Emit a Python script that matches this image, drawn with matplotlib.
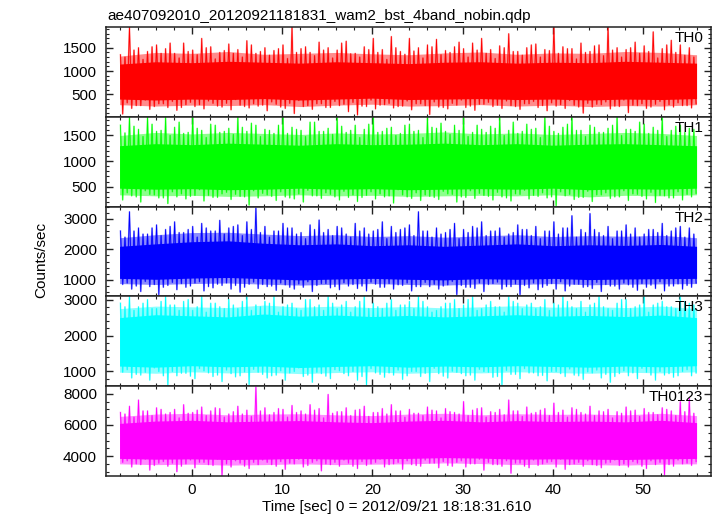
import numpy as np
import matplotlib
matplotlib.use('Agg')
import matplotlib.pyplot as plt
from matplotlib.ticker import MultipleLocator

plt.rcParams['font.family'] = ['Liberation Sans', 'DejaVu Sans']

title  = 'ae407092010_20120921181831_wam2_bst_4band_nobin.qdp'
xlabel = 'Time [sec] 0 = 2012/09/21 18:18:31.610'
ylabel = 'Counts/sec'
bands  = ['TH0', 'TH1', 'TH2', 'TH3', 'TH0123']
colors = ['#ff0000', '#00ff00', '#0000ff', '#00ffff', '#ff00ff']

# --- values --- #
# per second: a spike top, a dip, a second (smaller) spike top, a second dip;
# plus the dense core band (solid) and its fringe, every 4 s
t_sec  = np.arange(64) - 7.9
t_core = [-8, -4, 0, 4, 8, 12, 16, 20, 24, 28, 32, 36, 40, 44, 48, 52, 55.9]

th0_peak = [1350, 1940, 1500, 1420, 1560, 1480, 1380, 1600, 1450, 1700, 1520, 1400, 1580, 1460, 1650, 1380,
            1500, 1440, 1560, 1940, 1480, 1400, 1620, 1500, 1450, 1640, 1380, 1520, 1700, 1460, 1740, 1420,
            1700, 1500, 1560, 1680, 1440, 1520, 1480, 1600, 1700, 1460, 1540, 1800, 1420, 1500, 1580, 1460,
            1940, 1520, 1480, 1600, 1420, 1560, 1940, 1500, 1460, 1620, 1540, 1840, 1480, 1660, 1560, 1500]
th0_dip  = [80, 200, 260, 180, 300, 220, 160, 280, 240, 190, 310, 230, 170, 270, 210, 250,
            150, 290, 200, 90, 240, 180, 300, 220, 260, 130, 60, 240, 190, 280, 210, 250,
            170, 300, 70, 230, 190, 270, 220, 160, 290, 240, 200, 260, 180, 300, 220, 150,
            250, 200, 270, 100, 230, 280, 190, 240, 110, 260, 200, 290, 170, 230, 260, 210]
th0_peak_b = [1300, 1450, 1250, 1520, 1380, 1600, 1280, 1420, 1350, 1500, 1260, 1440, 1380, 1300, 1560, 1420,
              1340, 1480, 1270, 1400, 1520, 1330, 1450, 1280, 1600, 1370, 1300, 1460, 1400, 1250, 1500, 1360,
              1430, 1280, 1520, 1350, 1400, 1620, 1300, 1450, 1380, 1270, 1500, 1420, 1340, 1560, 1300, 1440,
              1380, 1480, 1260, 1400, 1540, 1330, 1450, 1300, 1500, 1380, 1420, 1280, 1560, 1400, 1340, 1300]
th0_dip_b  = [320, 260, 380, 240, 300, 350, 220, 330, 280, 360, 250, 310, 390, 240, 300, 270,
              340, 230, 310, 370, 260, 300, 220, 350, 290, 330, 250, 380, 270, 310, 240, 360,
              300, 260, 340, 220, 310, 380, 250, 290, 330, 270, 360, 240, 300, 350, 260, 320,
              280, 370, 230, 310, 290, 340, 250, 380, 270, 300, 230, 350, 280, 320, 260, 300]
th0_hi   = [1150, 1200, 1180, 1210, 1190, 1170, 1200, 1180, 1160, 1190, 1200, 1170, 1190, 1180, 1210, 1190, 1170]
th0_lo   = [400, 380, 400, 390, 410, 380, 400, 420, 390, 400, 410, 390, 400, 380, 400, 390, 410]
th0_hi2  = [1320, 1400, 1380, 1420, 1360, 1380, 1400, 1370, 1350, 1390, 1410, 1360, 1390, 1380, 1420, 1400, 1350]
th0_lo2  = [280, 250, 270, 260, 280, 240, 270, 290, 250, 260, 280, 250, 270, 240, 260, 250, 280]

th1_peak = [1700, 1860, 1620, 1860, 1580, 1860, 1660, 1540, 1860, 1600, 1720, 1560, 1640, 1860, 1580, 1700,
            1620, 1540, 1860, 1660, 1600, 1760, 1580, 1640, 1860, 1560, 1700, 1620, 1860, 1580, 1660, 1540,
            1720, 1600, 1860, 1640, 1580, 1700, 1860, 1560, 1620, 1680, 1860, 1600, 1540, 1720, 1640, 1860,
            1580, 1660, 1860, 1600, 1700, 1560, 1640, 1860, 1620, 1580, 1720, 1660, 1860, 1600, 1700, 1640]
th1_dip  = [240, 320, 200, 350, 280, 170, 300, 260, 330, 220, 290, 360, 250, 310, 140, 280,
            340, 230, 300, 260, 200, 320, 270, 350, 240, 290, 210, 330, 260, 300, 180, 340,
            270, 230, 310, 250, 360, 200, 290, 270, 330, 240, 300, 220, 350, 260, 310, 280,
            130, 320, 250, 290, 210, 340, 270, 300, 230, 350, 260, 190, 320, 280, 240, 300]
th1_peak_b = [1550, 1680, 1480, 1720, 1600, 1500, 1760, 1560, 1640, 1460, 1700, 1580, 1520, 1660, 1740, 1480,
              1600, 1700, 1540, 1620, 1480, 1760, 1580, 1520, 1680, 1600, 1460, 1720, 1560, 1640, 1500, 1700,
              1580, 1460, 1660, 1740, 1520, 1600, 1480, 1700, 1560, 1640, 1500, 1760, 1580, 1620, 1460, 1680,
              1540, 1720, 1600, 1480, 1660, 1560, 1700, 1500, 1620, 1760, 1540, 1600, 1480, 1680, 1560, 1620]
th1_dip_b  = [380, 300, 420, 340, 280, 400, 360, 310, 440, 330, 290, 390, 350, 300, 420, 370,
              310, 400, 280, 360, 430, 320, 380, 300, 410, 340, 290, 400, 360, 320, 440, 300,
              380, 340, 290, 410, 350, 300, 420, 370, 310, 390, 280, 360, 430, 330, 380, 300,
              400, 350, 290, 410, 340, 380, 300, 420, 360, 310, 390, 330, 280, 400, 350, 370]
th1_hi   = [1300, 1340, 1320, 1350, 1330, 1310, 1340, 1320, 1330, 1350, 1320, 1340, 1310, 1330, 1340, 1320, 1300]
th1_lo   = [470, 450, 460, 440, 450, 470, 450, 460, 440, 450, 460, 450, 470, 440, 460, 450, 470]
th1_hi2  = [1500, 1560, 1530, 1560, 1540, 1520, 1550, 1530, 1540, 1570, 1530, 1550, 1520, 1540, 1560, 1540, 1500]
th1_lo2  = [340, 320, 330, 310, 320, 340, 320, 330, 310, 320, 330, 320, 340, 300, 330, 320, 340]

th2_peak = [2600, 3230, 2700, 2500, 2800, 2650, 2900, 2550, 2750, 2850, 2600, 2950, 2700, 2800, 2900, 3350,
            2750, 2600, 2850, 2700, 2550, 2800, 2960, 2650, 2750, 2500, 2850, 2700, 2600, 2900, 2750, 2650,
            2800, 3230, 2600, 2700, 2550, 2850, 2650, 2750, 2900, 2600, 2700, 2500, 2800, 2650, 2750, 2600,
            2900, 2700, 3100, 2650, 3170, 2550, 2750, 2600, 2800, 2700, 2500, 2650, 2850, 2600, 2750, 2700]
th2_dip  = [850, 700, 620, 780, 520, 820, 680, 760, 900, 640, 740, 820, 700, 600, 860, 720,
            780, 660, 840, 700, 760, 620, 880, 740, 680, 800, 720, 640, 860, 760, 700, 820,
            640, 780, 780, 700, 840, 520, 760, 720, 620, 880, 700, 780, 520, 740, 680, 820,
            700, 640, 860, 760, 720, 620, 800, 700, 840, 660, 760, 720, 640, 800, 700, 760]
th2_peak_b = [2400, 2600, 2500, 2700, 2450, 2750, 2550, 2650, 2400, 2700, 2600, 2500, 2750, 2450, 2650, 2550,
              2400, 2600, 2700, 2500, 2350, 2650, 2550, 2450, 2700, 2400, 2600, 2500, 2650, 2350, 2550, 2700,
              2450, 2600, 2400, 2500, 2650, 2350, 2550, 2700, 2450, 2600, 2400, 2550, 2650, 2450, 2350, 2600,
              2500, 2700, 2400, 2550, 2650, 2450, 2350, 2600, 2500, 2400, 2650, 2550, 2450, 2700, 2400, 2500]
th2_dip_b  = [900, 800, 950, 850, 760, 920, 880, 800, 940, 780, 860, 900, 820, 760, 930, 850,
              800, 900, 760, 870, 940, 820, 880, 780, 910, 850, 800, 930, 760, 880, 840, 900,
              780, 920, 860, 800, 950, 820, 760, 900, 850, 930, 780, 870, 820, 900, 760, 880,
              940, 800, 860, 780, 920, 850, 800, 900, 760, 880, 830, 940, 800, 870, 820, 900]
th2_hi   = [2100, 2180, 2250, 2280, 2200, 2150, 2180, 2120, 2150, 2100, 2140, 2180, 2120, 2150, 2130, 2160, 2100]
th2_lo   = [1050, 1020, 1060, 1080, 1040, 1000, 1030, 1050, 1020, 1000, 1040, 1020, 1050, 1010, 1030, 1040, 1050]
th2_hi2  = [2380, 2480, 2550, 2560, 2500, 2450, 2480, 2420, 2450, 2400, 2440, 2480, 2420, 2450, 2430, 2460, 2380]
th2_lo2  = [880, 850, 880, 900, 860, 830, 860, 880, 850, 830, 870, 850, 880, 840, 860, 870, 880]

th3_peak = [2900, 3090, 2800, 3000, 2750, 3090, 2850, 2950, 2700, 3090, 2900, 2800, 3000, 2750, 3090, 2850,
            2950, 3090, 2800, 2900, 2700, 3000, 2850, 3090, 2750, 2950, 2800, 3090, 2900, 2750, 3000, 2850,
            2950, 3090, 2800, 2700, 2900, 3000, 2850, 3090, 2750, 2950, 2800, 3090, 2900, 2850, 2750, 3000,
            2900, 3090, 2800, 2950, 2850, 3090, 2750, 2900, 3000, 2800, 3090, 2850, 2950, 2800, 3090, 2900]
th3_dip  = [980, 820, 900, 760, 1000, 620, 880, 950, 800, 1020, 860, 720, 940, 880, 640, 980,
            820, 900, 760, 1000, 860, 700, 940, 800, 1020, 880, 760, 620, 960, 840, 900, 780,
            1000, 860, 720, 940, 820, 980, 880, 760, 1000, 840, 620, 920, 800, 960, 880, 740,
            1000, 860, 900, 780, 960, 820, 700, 940, 880, 800, 980, 760, 900, 840, 1000, 880]
th3_peak_b = [2800, 2700, 2900, 2750, 2950, 2850, 2700, 3000, 2800, 2650, 2900, 2750, 2850, 2950, 2700, 2800,
              2900, 2650, 2850, 2750, 3000, 2800, 2700, 2900, 2850, 2650, 2950, 2750, 2800, 2900, 2700, 2850,
              2750, 2950, 2650, 2800, 2900, 2750, 3000, 2700, 2850, 2800, 2650, 2950, 2750, 2900, 2800, 2700,
              2850, 2950, 2750, 2650, 2900, 2800, 2700, 3000, 2750, 2850, 2650, 2900, 2800, 2750, 2950, 2850]
th3_dip_b  = [1050, 920, 980, 1100, 880, 1000, 950, 870, 1080, 960, 900, 1040, 850, 990, 1060, 920,
              880, 1020, 960, 1100, 900, 980, 870, 1050, 940, 1000, 860, 1080, 920, 960, 1040, 880,
              1000, 950, 1090, 870, 1010, 940, 900, 1060, 980, 860, 1030, 920, 1080, 960, 890, 1000,
              940, 1070, 880, 990, 1040, 920, 860, 1020, 960, 1090, 900, 1000, 940, 880, 1050, 960]
th3_hi   = [2500, 2580, 2550, 2520, 2600, 2540, 2570, 2530, 2560, 2520, 2550, 2580, 2540, 2560, 2530, 2570, 2500]
th3_lo   = [1150, 1120, 1160, 1130, 1150, 1110, 1140, 1160, 1120, 1150, 1130, 1160, 1140, 1120, 1150, 1130, 1160]
th3_hi2  = [2750, 2820, 2800, 2780, 2850, 2790, 2820, 2780, 2810, 2770, 2800, 2830, 2790, 2810, 2780, 2820, 2750]
th3_lo2  = [980, 950, 990, 960, 980, 940, 970, 990, 950, 980, 960, 990, 970, 950, 980, 960, 990]

sum_peak = [6800, 7200, 7600, 6900, 7100, 6700, 7000, 7300, 6800, 7150, 6900, 7050, 6700, 7200, 6950, 8430,
            7100, 6800, 7000, 7250, 6900, 7300, 7050, 7960, 6850, 7100, 6950, 7200, 6800, 7050, 7300, 6900,
            7000, 6750, 7150, 6900, 7050, 6800, 7500, 6950, 7100, 6850, 7000, 7600, 6900, 7150, 6800, 7050,
            7400, 6950, 7100, 6800, 7200, 6900, 7000, 6850, 7150, 6950, 7050, 6800, 7100, 6900, 7490, 7700]
sum_dip  = [3600, 3300, 3450, 3100, 3550, 3350, 3000, 3500, 3250, 3600, 3400, 2750, 3300, 3550, 3200, 3450,
            3600, 3350, 3150, 3500, 3300, 3600, 3050, 3450, 3350, 3550, 3200, 3400, 3600, 3300, 3500, 3150,
            3450, 3350, 3550, 3250, 3400, 3600, 3300, 3500, 3100, 3450, 3350, 2900, 3550, 3250, 3400, 3600,
            3300, 3150, 3500, 3350, 3450, 3250, 3600, 3400, 3300, 3550, 3200, 3450, 2780, 3350, 3500, 3400]
sum_peak_b = [6700, 6500, 6900, 6600, 7000, 6800, 6450, 6750, 6950, 6600, 7100, 6500, 6850, 6700, 6550, 6900,
              6650, 7050, 6500, 6800, 6700, 6950, 6450, 6750, 6850, 6600, 7000, 6550, 6800, 6700, 6900, 6500,
              6750, 6600, 6950, 6450, 6850, 6700, 6600, 7050, 6500, 6800, 6650, 6900, 6550, 6750, 6950, 6600,
              6800, 6500, 7000, 6700, 6600, 6850, 6450, 6750, 6900, 6550, 6800, 6650, 7000, 6600, 6850, 6750]
sum_dip_b  = [3700, 3500, 3800, 3400, 3650, 3550, 3350, 3750, 3600, 3450, 3800, 3500, 3700, 3350, 3600, 3750,
              3450, 3650, 3550, 3800, 3400, 3700, 3500, 3600, 3750, 3350, 3650, 3500, 3800, 3450, 3600, 3700,
              3400, 3750, 3550, 3650, 3350, 3700, 3500, 3800, 3600, 3450, 3700, 3550, 3350, 3750, 3500, 3650,
              3800, 3450, 3600, 3700, 3400, 3550, 3750, 3500, 3650, 3350, 3700, 3600, 3450, 3750, 3550, 3650]
sum_hi   = [6100, 6250, 6300, 6200, 6250, 6280, 6200, 6150, 6250, 6300, 6200, 6280, 6220, 6250, 6200, 6300, 6150]
sum_lo   = [3850, 3800, 3820, 3780, 3800, 3850, 3800, 3820, 3850, 3900, 3870, 3800, 3820, 3800, 3780, 3820, 3850]
sum_hi2  = [6550, 6700, 6750, 6650, 6700, 6720, 6650, 6600, 6700, 6750, 6650, 6720, 6680, 6700, 6650, 6750, 6600]
sum_lo2  = [3500, 3450, 3480, 3420, 3450, 3500, 3450, 3480, 3500, 3560, 3520, 3450, 3480, 3450, 3420, 3480, 3500]

peaks   = [th0_peak, th1_peak, th2_peak, th3_peak, sum_peak]
dips    = [th0_dip, th1_dip, th2_dip, th3_dip, sum_dip]
peaks_b = [th0_peak_b, th1_peak_b, th2_peak_b, th3_peak_b, sum_peak_b]
dips_b  = [th0_dip_b, th1_dip_b, th2_dip_b, th3_dip_b, sum_dip_b]
his     = [th0_hi, th1_hi, th2_hi, th3_hi, sum_hi]
los     = [th0_lo, th1_lo, th2_lo, th3_lo, sum_lo]
his2    = [th0_hi2, th1_hi2, th2_hi2, th3_hi2, sum_hi2]
los2    = [th0_lo2, th1_lo2, th2_lo2, th3_lo2, sum_lo2]

ylims  = [(20, 1945), (110, 1865), (460, 3400), (590, 3090), (2720, 8490)]
majors = [500, 500, 1000, 1000, 2000]
minors = [100, 100, 200, 200, 500]

W, H = 717, 516
fig = plt.figure(figsize=(W / 100, H / 100), dpi=100)

left, right, top, bottom = 106, 711, 27, 476
ph = (bottom - top) / 5

for i in range(5):
    ax = fig.add_axes([left / W, (H - top - (i + 1) * ph) / H, (right - left) / W, ph / H])

    # zig-zag: top, dip, second top, second dip within each second
    tx = np.empty(256)
    ty = np.empty(256)
    tx[0::4], tx[1::4], tx[2::4], tx[3::4] = t_sec, t_sec + 0.25, t_sec + 0.5, t_sec + 0.75
    ty[0::4], ty[1::4], ty[2::4], ty[3::4] = peaks[i], dips[i], peaks_b[i], dips_b[i]

    ax.fill_between(t_core, los2[i], his2[i], color=colors[i], lw=0, alpha=0.45)
    ax.fill_between(t_core, los[i], his[i], color=colors[i], lw=0)
    ax.plot(tx, ty, color=colors[i], lw=1.2, alpha=0.4)
    ax.plot(tx, ty, color=colors[i], lw=0.6)

    ax.set_xlim(-9.5, 57.5)
    ax.set_ylim(*ylims[i])
    ax.xaxis.set_major_locator(MultipleLocator(10))
    ax.xaxis.set_minor_locator(MultipleLocator(2))
    ax.yaxis.set_major_locator(MultipleLocator(majors[i]))
    ax.yaxis.set_minor_locator(MultipleLocator(minors[i]))
    ax.tick_params(which='both', direction='in', top=True, right=True, color='#222222', labelsize=11)
    ax.tick_params(which='major', length=5, width=1.0)
    ax.tick_params(which='minor', length=2.5, width=0.8)
    ax.tick_params(axis='y', pad=6.5)
    ax.tick_params(axis='x', pad=5)
    for s in ax.spines.values():
        s.set_color('#222222')
        s.set_linewidth(1.1)
    if i < 4:
        ax.tick_params(labelbottom=False)

    ax.text(0.987, 0.955, bands[i], transform=ax.transAxes, ha='right', va='top', fontsize=11)

fig.text(107 / W, 1 - 20 / H, title, ha='left', va='baseline', fontsize=11)
fig.text(41 / W, 1 - 260 / H, ylabel, rotation=90, ha='center', va='center', fontsize=11)
fig.text(397 / W, 1 - 507 / H, xlabel, ha='center', va='center', fontsize=11)

fig.savefig('out.png', dpi=100)
